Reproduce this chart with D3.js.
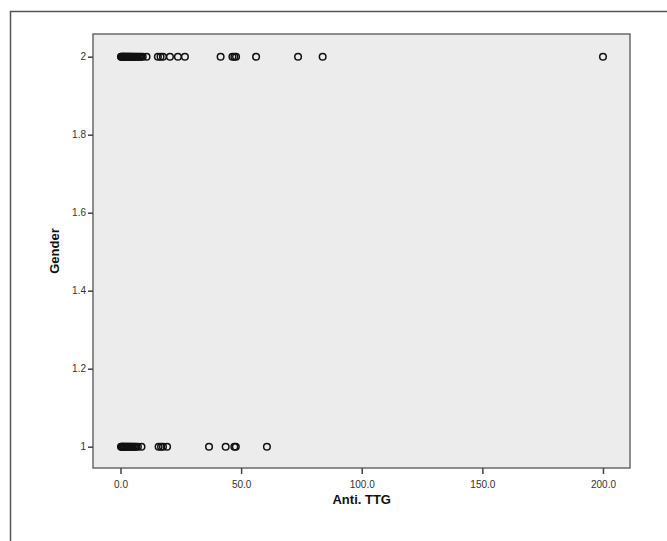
<!DOCTYPE html>
<html>
<head>
<meta charset="utf-8">
<script src="https://cdn.jsdelivr.net/npm/d3@7"></script>
<style>
  html, body { margin: 0; padding: 0; background: #fff; }
  svg { display: block; font-family: "Liberation Sans", Arial, sans-serif; }
</style>
</head>
<body>
<svg id="chart" width="667" height="541"></svg>
<script>
// Data: Anti. TTG values for each gender group
const maleTTG = [0.2, 0.5, 0.8, 1.0, 1.3, 1.6, 2.0, 2.3, 2.7, 3.0, 3.4, 3.8, 4.2, 4.6, 5.0, 5.5, 6.0, 6.5, 7.2, 8.7,
                 15.8, 16.8, 17.6, 19.3, 36.7, 43.6, 47.2, 47.8, 60.7];
const femaleTTG = [0.2, 0.4, 0.7, 1.0, 1.2, 1.5, 1.8, 2.1, 2.4, 2.7, 3.0, 3.3, 3.7, 4.0, 4.4, 4.8, 5.2, 5.6, 6.0, 6.5,
                   7.0, 7.5, 8.0, 8.6, 9.2, 10.8,
                   15.5, 16.6, 17.6, 20.5, 23.8, 26.7, 41.5, 46.4, 47.2, 47.9, 56.2, 73.6, 83.8, 200.0];
const genderCodes = [1, 2];
const xTicks = [0, 50, 100, 150, 200];
const yTicks = [1, 1.2, 1.4, 1.6, 1.8, 2];

const points = [];
maleTTG.forEach(v => points.push({x: v, y: genderCodes[0]}));
femaleTTG.forEach(v => points.push({x: v, y: genderCodes[1]}));

const svg = d3.select("#chart");
const plot = {left: 93, top: 34, right: 630, bottom: 468};

// outer frame (left and top edges visible)
svg.append("path")
  .attr("d", "M10.5,541 L10.5,11.5 L667,11.5")
  .attr("fill", "none").attr("stroke", "#555").attr("stroke-width", 1.5);

const x = d3.scaleLinear().domain([-11.4, 211.2]).range([plot.left, plot.right]);
const y = d3.scaleLinear().domain([0.9454, 2.0582]).range([plot.bottom, plot.top]);

svg.append("rect")
  .attr("x", plot.left).attr("y", plot.top)
  .attr("width", plot.right - plot.left).attr("height", plot.bottom - plot.top)
  .attr("fill", "#ececec").attr("stroke", "#6a6a6a").attr("stroke-width", 1.5);

const xAxis = svg.append("g")
  .attr("transform", `translate(0,${plot.bottom})`)
  .call(d3.axisBottom(x).tickValues(xTicks).tickFormat(d3.format(".1f")).tickSize(6).tickSizeOuter(0));
const yAxis = svg.append("g")
  .attr("transform", `translate(${plot.left},0)`)
  .call(d3.axisLeft(y).tickValues(yTicks).tickFormat(d3.format("~g")).tickSize(5).tickSizeOuter(0));

[xAxis, yAxis].forEach(a => {
  a.select(".domain").remove();
  a.selectAll(".tick line").attr("stroke", "#444").attr("stroke-width", 1.5);
  a.selectAll(".tick text").attr("fill", "#333").attr("font-size", "10px")
    .attr("font-family", "'Liberation Sans', Arial, sans-serif");
});
xAxis.selectAll(".tick text").attr("dy", "1.1em");
yAxis.selectAll(".tick text").attr("x", -7);

svg.append("g").selectAll("circle")
  .data(points).enter().append("circle")
  .attr("cx", d => x(d.x)).attr("cy", d => y(d.y))
  .attr("r", 3.3)
  .attr("fill", "none").attr("stroke", "#111").attr("stroke-width", 1.5);

svg.append("text")
  .attr("x", (x(0) + x(200)) / 2).attr("y", 504)
  .attr("text-anchor", "middle").attr("font-size", "13px").attr("font-weight", "bold").attr("fill", "#111")
  .text("Anti. TTG");

svg.append("text")
  .attr("transform", `translate(59,${(plot.top + plot.bottom) / 2}) rotate(-90)`)
  .attr("text-anchor", "middle").attr("font-size", "13px").attr("font-weight", "bold").attr("fill", "#111")
  .text("Gender");
</script>
</body>
</html>
